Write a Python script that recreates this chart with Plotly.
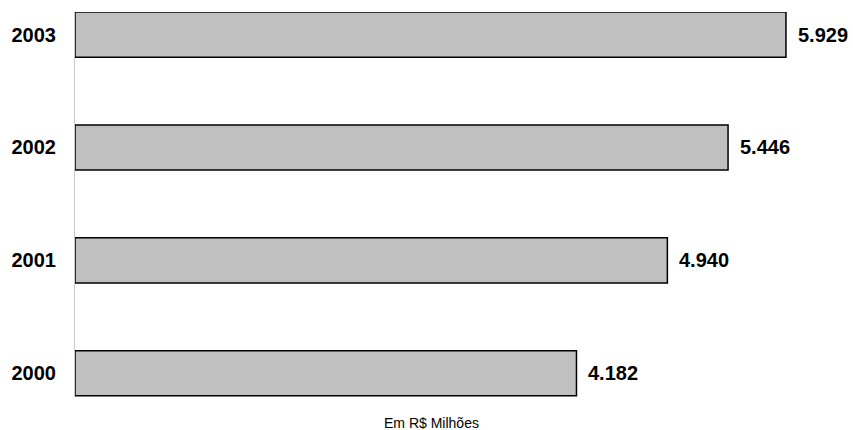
import plotly.graph_objects as go

years = ["2000", "2001", "2002", "2003"]
values = [4182, 4940, 5446, 5929]
labels = ["4.182", "4.940", "5.446", "5.929"]
axis_title = "Em R$ Milhões"

FONT = "Liberation Sans, Arial"

fig = go.Figure()
fig.add_trace(go.Bar(
    y=years, x=values, orientation="h",
    width=0.4,
    marker=dict(color="#C0C0C0", line=dict(color="#000000", width=1.5)),
    hoverinfo="skip",
))

for i, (v, t) in enumerate(zip(values, labels)):
    fig.add_annotation(
        x=v, y=i, xref="x", yref="y", text=f"<b>{t}</b>",
        showarrow=False, xanchor="left", yanchor="middle", xshift=10,
        font=dict(family=FONT, size=20, color="#000000"),
    )

fig.add_annotation(
    x=0.4576, y=0, xref="paper", yref="paper", yshift=-26,
    text=axis_title, showarrow=False, xanchor="center", yanchor="middle",
    font=dict(family=FONT, size=14, color="#000000"),
)

fig.update_layout(
    width=853, height=430,
    margin=dict(l=75, r=0, t=12, b=33, autoexpand=False),
    plot_bgcolor="#FFFFFF", paper_bgcolor="#FFFFFF",
    showlegend=False,
    bargap=0.6,
)
fig.update_xaxes(
    range=[0, 6488], showgrid=False, zeroline=False, showticklabels=False,
    showline=False, ticks="",
)
fig.update_yaxes(
    type="category", categoryorder="array", categoryarray=years,
    range=[-0.21, 3.2], showgrid=False, zeroline=False,
    showline=True, linecolor="#C8C8C8", linewidth=1, ticks="",
    tickfont=dict(family=FONT, size=20, color="#000000"),
    tickprefix="<b>", ticksuffix="</b>",
    ticklabelstandoff=14,
)

fig.write_html(
    "out.html",
    config={"displayModeBar": False},
    post_script="document.body.style.margin='0';document.body.style.overflow='hidden';",
)
